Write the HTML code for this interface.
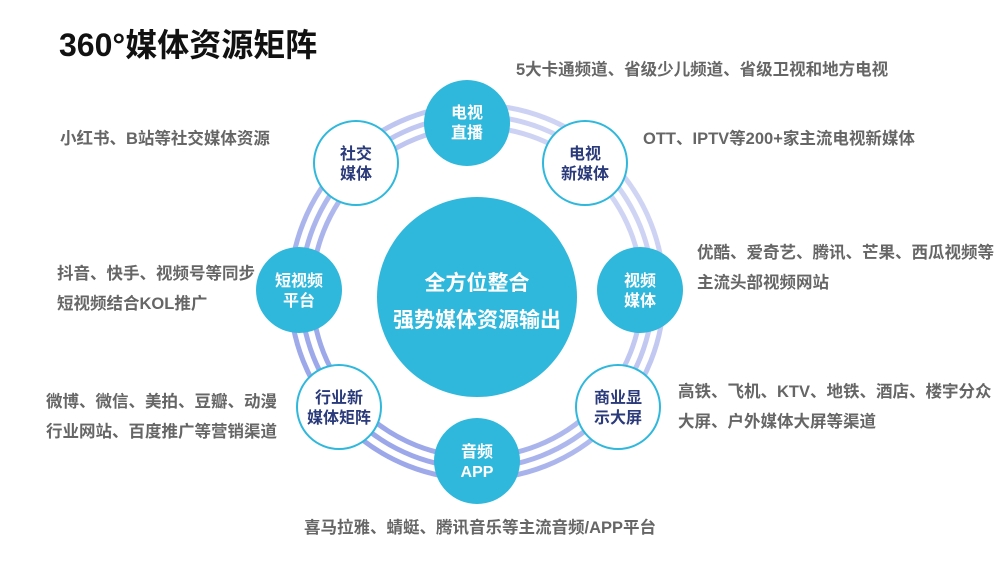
<!DOCTYPE html>
<html><head><meta charset="utf-8"><style>
body{margin:0;width:1000px;height:561px;background:#fff;position:relative;overflow:hidden;font-family:"Liberation Sans","Noto Sans CJK SC",sans-serif;}
.t{position:absolute;font-weight:bold;color:#666;font-size:16.5px;white-space:nowrap;line-height:30px;}
.title{position:absolute;left:59px;top:20px;font-size:32px;font-weight:bold;color:#111;}
svg{position:absolute;left:0;top:0;}
</style></head><body>
<div class="title">360°媒体资源矩阵</div>
<svg width="1000" height="561" font-family="Liberation Sans, Noto Sans CJK SC, sans-serif" font-weight="bold">
<defs><linearGradient id="g" x1="0" y1="1" x2="1" y2="0"><stop offset="0" stop-color="#8f9de6"/><stop offset="1" stop-color="#dcdff7"/></linearGradient></defs>
<g fill="none" stroke="url(#g)" stroke-width="5">
<circle cx="477" cy="292" r="165"/><circle cx="477" cy="292" r="176"/><circle cx="477" cy="292" r="187"/>
</g>
<circle cx="477" cy="297" r="100" fill="#2fb8dc"/>
<text x="477" y="290" fill="#fff" font-size="21" text-anchor="middle">全方位整合</text>
<text x="477" y="327" fill="#fff" font-size="21" text-anchor="middle">强势媒体资源输出</text>
<g font-size="16" text-anchor="middle">
<circle cx="467" cy="123" r="43" fill="#2fb8dc"/><text x="467" y="118" fill="#fff">电视</text><text x="467" y="138" fill="#fff">直播</text>
<circle cx="356" cy="163" r="42" fill="#fff" stroke="#2fb8dc" stroke-width="2"/><text x="356" y="159" fill="#2a3a7a">社交</text><text x="356" y="179" fill="#2a3a7a">媒体</text>
<circle cx="585" cy="163" r="42" fill="#fff" stroke="#2fb8dc" stroke-width="2"/><text x="585" y="159" fill="#2a3a7a">电视</text><text x="585" y="179" fill="#2a3a7a">新媒体</text>
<circle cx="640" cy="290" r="43" fill="#2fb8dc"/><text x="640" y="286" fill="#fff">视频</text><text x="640" y="306" fill="#fff">媒体</text>
<circle cx="299" cy="290" r="43" fill="#2fb8dc"/><text x="299" y="286" fill="#fff">短视频</text><text x="299" y="306" fill="#fff">平台</text>
<circle cx="339" cy="407" r="42" fill="#fff" stroke="#2fb8dc" stroke-width="2"/><text x="339" y="403" fill="#2a3a7a">行业新</text><text x="339" y="423" fill="#2a3a7a">媒体矩阵</text>
<circle cx="618" cy="407" r="42" fill="#fff" stroke="#2fb8dc" stroke-width="2"/><text x="618" y="403" fill="#2a3a7a">商业显</text><text x="618" y="423" fill="#2a3a7a">示大屏</text>
<circle cx="477" cy="461" r="43" fill="#2fb8dc"/><text x="477" y="457" fill="#fff">音频</text><text x="477" y="477" fill="#fff">APP</text>
</g>
</svg>
<div class="t" style="left:516px;top:55px">5大卡通频道、省级少儿频道、省级卫视和地方电视</div>
<div class="t" style="left:60px;top:124px">小红书、B站等社交媒体资源</div>
<div class="t" style="left:643px;top:124px">OTT、IPTV等200+家主流电视新媒体</div>
<div class="t" style="left:697px;top:238px">优酷、爱奇艺、腾讯、芒果、西瓜视频等<br>主流头部视频网站</div>
<div class="t" style="left:57px;top:259px">抖音、快手、视频号等同步<br>短视频结合KOL推广</div>
<div class="t" style="left:46px;top:387px">微博、微信、美拍、豆瓣、动漫<br>行业网站、百度推广等营销渠道</div>
<div class="t" style="left:678px;top:377px">高铁、飞机、KTV、地铁、酒店、楼宇分众<br>大屏、户外媒体大屏等渠道</div>
<div class="t" style="left:304px;top:513px">喜马拉雅、蜻蜓、腾讯音乐等主流音频/APP平台</div>
</body></html>
